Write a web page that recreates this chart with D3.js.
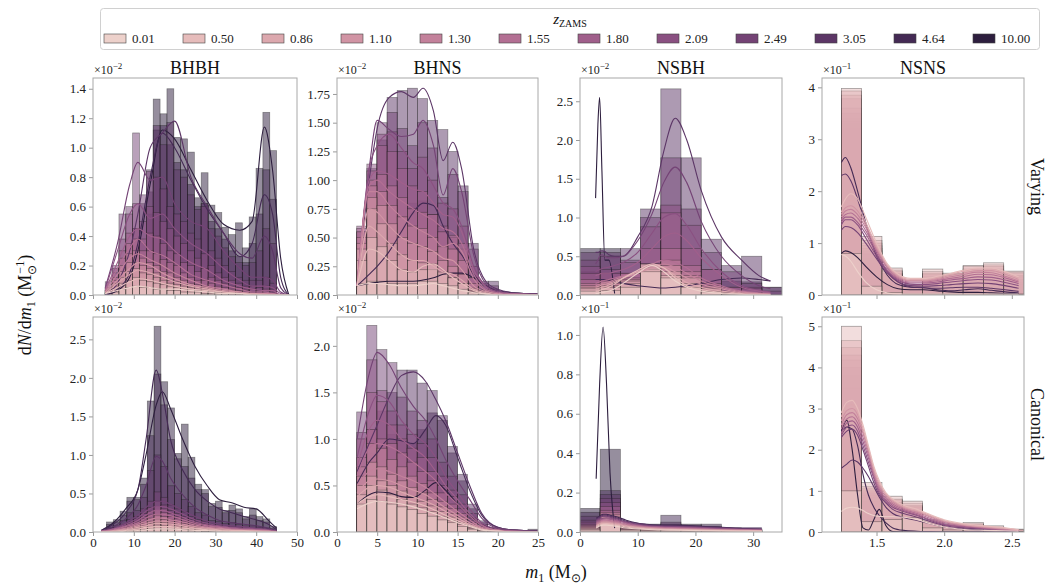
<!DOCTYPE html>
<html>
<head>
<meta charset="utf-8">
<script src="https://cdn.jsdelivr.net/npm/d3@7"></script>
<style>
  body { margin: 0; background: #fff; }
  svg text { font-family: "Liberation Serif", "Times New Roman", serif !important; }
</style>
</head>
<body>
<svg id="chart" width="1046" height="585"></svg>
<script>
// ---- data -------------------------------------------------------------
const zamsLabels = ["0.01", "0.50", "0.86", "1.10", "1.30", "1.55", "1.80", "2.09", "2.49", "3.05", "4.64", "10.00"];
const typeNames = ["BHBH", "BHNS", "NSBH", "NSNS"];
const rowNames = ["Varying", "Canonical"];

const xDomains = [[0, 50], [0, 25], [0, 35], [1.097, 2.59]];
const xTicks = [[0, 10, 20, 30, 40, 50], [0, 5, 10, 15, 20, 25], [0, 10, 20, 30], [1.5, 2.0, 2.5]];

// BHBH, varying (x10^-2); one row per z_ZAMS, lightest first
const bhbhVaryingEdges = [3.0, 4.68, 6.36, 8.04, 9.72, 11.4, 13.08, 14.76, 16.44, 18.12, 19.8, 21.48, 23.16, 24.84, 26.52, 28.2, 29.88, 31.56, 33.24, 34.92, 36.6, 38.28, 39.96, 41.64, 43.32, 45.0];
const bhbhVaryingHist = [
  [0.01, 0.02, 0.04, 0.05, 0.06, 0.05, 0.05, 0.04, 0.04, 0.03, 0.03, 0.02, 0.02, 0.02, 0.01, 0.01, 0.01, 0.01, 0, 0, 0, 0, 0, 0, 0],
  [0.01, 0.04, 0.08, 0.1, 0.12, 0.1, 0.09, 0.08, 0.07, 0.06, 0.05, 0.04, 0.04, 0.03, 0.03, 0.02, 0.02, 0.01, 0.01, 0.01, 0, 0, 0, 0, 0],
  [0.02, 0.06, 0.12, 0.16, 0.18, 0.15, 0.14, 0.12, 0.1, 0.08, 0.07, 0.06, 0.05, 0.04, 0.04, 0.03, 0.02, 0.02, 0.01, 0.01, 0.01, 0.01, 0, 0, 0],
  [0.02, 0.08, 0.16, 0.22, 0.22, 0.2, 0.18, 0.15, 0.12, 0.1, 0.09, 0.07, 0.06, 0.05, 0.05, 0.04, 0.03, 0.02, 0.02, 0.02, 0.01, 0.01, 0.01, 0.01, 0],
  [0.03, 0.1, 0.2, 0.28, 0.3, 0.25, 0.22, 0.2, 0.16, 0.15, 0.12, 0.1, 0.08, 0.07, 0.06, 0.05, 0.04, 0.03, 0.03, 0.02, 0.02, 0.01, 0.01, 0.01, 0.01],
  [0.03, 0.12, 0.25, 0.35, 0.38, 0.3, 0.3, 0.28, 0.24, 0.22, 0.2, 0.15, 0.12, 0.1, 0.1, 0.08, 0.06, 0.05, 0.04, 0.03, 0.03, 0.02, 0.02, 0.02, 0.01],
  [0.04, 0.15, 0.3, 0.42, 0.45, 0.38, 0.42, 0.4, 0.35, 0.3, 0.28, 0.22, 0.2, 0.16, 0.18, 0.12, 0.1, 0.08, 0.06, 0.05, 0.04, 0.04, 0.03, 0.04, 0.02],
  [0.05, 0.18, 0.38, 0.55, 0.62, 0.5, 0.6, 0.56, 0.5, 0.45, 0.4, 0.35, 0.3, 0.25, 0.28, 0.2, 0.15, 0.12, 0.1, 0.08, 0.06, 0.06, 0.05, 0.06, 0.04],
  [0.09, 0.2, 0.55, 0.6, 1.1, 0.68, 0.84, 0.8, 0.72, 0.6, 0.55, 0.5, 0.42, 0.38, 0.6, 0.3, 0.25, 0.2, 0.16, 0.12, 0.1, 0.1, 0.1, 0.12, 0.08],
  [0, 0.03, 0.1, 0.22, 0.45, 0.62, 0.85, 1.15, 1.02, 1.17, 0.85, 0.8, 0.68, 0.58, 0.62, 0.45, 0.4, 0.32, 0.26, 0.22, 0.2, 0.22, 0.3, 0.45, 0.35],
  [0, 0.01, 0.04, 0.1, 0.2, 0.35, 0.7, 1.12, 1.15, 1.02, 0.9, 0.85, 0.75, 0.6, 0.62, 0.5, 0.45, 0.38, 0.3, 0.26, 0.22, 0.35, 0.55, 0.85, 0.65],
  [0, 0.01, 0.03, 0.08, 0.16, 0.3, 0.55, 1.33, 1.23, 1.40, 1.07, 1.06, 0.97, 0.66, 0.83, 0.61, 0.56, 0.46, 0.41, 0.49, 0.32, 0.53, 0.86, 1.24, 0.98]
];
const bhbhVaryingKdeX = [3, 6, 9, 11, 14, 17, 20, 24, 28, 32, 36, 39, 42, 44, 46, 48];
const bhbhVaryingKde = [
  [0.01, 0.03, 0.05, 0.06, 0.05, 0.04, 0.04, 0.03, 0.02, 0.01, 0.01, 0, 0, 0, 0, 0],
  [0.01, 0.05, 0.09, 0.11, 0.1, 0.08, 0.06, 0.04, 0.03, 0.02, 0.01, 0, 0, 0, 0, 0],
  [0.01, 0.08, 0.14, 0.17, 0.15, 0.12, 0.09, 0.06, 0.04, 0.02, 0.01, 0.01, 0, 0, 0, 0],
  [0.02, 0.1, 0.18, 0.22, 0.2, 0.15, 0.11, 0.07, 0.05, 0.03, 0.02, 0.01, 0.01, 0, 0, 0],
  [0.02, 0.14, 0.25, 0.28, 0.24, 0.2, 0.15, 0.1, 0.06, 0.04, 0.02, 0.01, 0.01, 0.01, 0, 0],
  [0.03, 0.18, 0.32, 0.38, 0.3, 0.27, 0.22, 0.14, 0.1, 0.07, 0.04, 0.02, 0.02, 0.01, 0, 0],
  [0.03, 0.22, 0.4, 0.45, 0.4, 0.38, 0.3, 0.22, 0.17, 0.1, 0.06, 0.04, 0.03, 0.03, 0, 0],
  [0.04, 0.3, 0.55, 0.62, 0.52, 0.55, 0.45, 0.35, 0.28, 0.18, 0.1, 0.06, 0.06, 0.05, 0.01, 0],
  [0.05, 0.35, 0.75, 0.9, 0.78, 0.8, 0.62, 0.5, 0.45, 0.3, 0.18, 0.12, 0.12, 0.1, 0.02, 0],
  [0, 0.08, 0.3, 0.55, 1.0, 1.1, 1.18, 0.8, 0.6, 0.42, 0.28, 0.25, 0.4, 0.3, 0.05, 0],
  [0, 0.04, 0.15, 0.35, 0.8, 1.1, 1.0, 0.78, 0.58, 0.42, 0.26, 0.35, 0.68, 0.55, 0.12, 0],
  [0, 0.03, 0.12, 0.3, 0.75, 1.12, 1.06, 0.85, 0.64, 0.48, 0.44, 0.5, 1.14, 0.85, 0.25, 0]
];

// BHBH, canonical (x10^-2)
const bhbhCanonicalEdges = [3.3, 4.97, 6.64, 8.3, 9.97, 11.64, 13.31, 14.98, 16.64, 18.31, 19.98, 21.65, 23.32, 24.98, 26.65, 28.32, 29.99, 31.66, 33.32, 34.99, 36.66, 38.33, 40.0, 41.66, 43.33, 45.0];
const bhbhCanonicalHist = [
  [0, 0.01, 0.01, 0.02, 0.02, 0.03, 0.04, 0.05, 0.04, 0.04, 0.03, 0.03, 0.02, 0.02, 0.01, 0.01, 0.01, 0.01, 0.01, 0, 0, 0, 0, 0, 0],
  [0.01, 0.01, 0.02, 0.03, 0.04, 0.06, 0.07, 0.09, 0.08, 0.07, 0.06, 0.05, 0.04, 0.03, 0.03, 0.02, 0.02, 0.01, 0.01, 0.01, 0.01, 0.01, 0, 0, 0],
  [0.01, 0.02, 0.03, 0.05, 0.06, 0.08, 0.11, 0.13, 0.12, 0.1, 0.08, 0.07, 0.05, 0.04, 0.04, 0.03, 0.02, 0.02, 0.02, 0.01, 0.01, 0.01, 0.01, 0, 0],
  [0.02, 0.02, 0.04, 0.06, 0.08, 0.11, 0.14, 0.17, 0.16, 0.13, 0.11, 0.09, 0.07, 0.06, 0.05, 0.04, 0.03, 0.03, 0.02, 0.02, 0.02, 0.01, 0.01, 0.01, 0],
  [0.02, 0.03, 0.05, 0.07, 0.1, 0.14, 0.18, 0.22, 0.2, 0.16, 0.14, 0.11, 0.09, 0.07, 0.06, 0.05, 0.04, 0.03, 0.03, 0.03, 0.02, 0.02, 0.01, 0.01, 0],
  [0.03, 0.04, 0.06, 0.09, 0.12, 0.17, 0.22, 0.28, 0.25, 0.2, 0.17, 0.14, 0.11, 0.09, 0.08, 0.06, 0.05, 0.04, 0.04, 0.03, 0.03, 0.02, 0.02, 0.01, 0.01],
  [0.03, 0.04, 0.07, 0.11, 0.14, 0.2, 0.27, 0.33, 0.3, 0.24, 0.2, 0.17, 0.13, 0.11, 0.09, 0.07, 0.06, 0.05, 0.04, 0.04, 0.03, 0.03, 0.02, 0.02, 0.01],
  [0.04, 0.05, 0.08, 0.13, 0.17, 0.24, 0.32, 0.4, 0.35, 0.28, 0.24, 0.2, 0.16, 0.13, 0.11, 0.08, 0.07, 0.06, 0.05, 0.05, 0.04, 0.04, 0.03, 0.02, 0.01],
  [0.05, 0.06, 0.1, 0.16, 0.2, 0.3, 0.4, 0.52, 0.45, 0.35, 0.3, 0.26, 0.2, 0.16, 0.14, 0.1, 0.09, 0.07, 0.07, 0.06, 0.05, 0.05, 0.04, 0.03, 0.01],
  [0.06, 0.08, 0.15, 0.25, 0.28, 0.45, 0.8, 1.0, 0.85, 0.6, 0.5, 0.42, 0.33, 0.25, 0.22, 0.15, 0.14, 0.11, 0.12, 0.1, 0.08, 0.08, 0.06, 0.05, 0.02],
  [0.1, 0.13, 0.22, 0.4, 0.42, 0.62, 1.25, 2.05, 1.65, 1.2, 0.95, 0.85, 0.7, 0.55, 0.5, 0.33, 0.32, 0.25, 0.28, 0.25, 0.17, 0.22, 0.15, 0.13, 0.05],
  [0.13, 0.16, 0.27, 0.45, 0.45, 0.7, 1.7, 2.67, 1.95, 1.61, 1.02, 1.4, 0.97, 0.62, 0.55, 0.37, 0.4, 0.28, 0.35, 0.3, 0.2, 0.3, 0.2, 0.17, 0.07]
];
const bhbhCanonicalKdeX = [2, 5, 8, 11, 13, 15.5, 17, 19, 22, 25, 28, 31, 34, 37, 40, 43, 45];
const bhbhCanonicalKde = [
  [0, 0, 0.01, 0.02, 0.03, 0.04, 0.04, 0.04, 0.03, 0.02, 0.02, 0.01, 0.01, 0.01, 0, 0, 0],
  [0, 0.01, 0.02, 0.04, 0.06, 0.07, 0.07, 0.07, 0.05, 0.04, 0.03, 0.02, 0.01, 0.01, 0.01, 0, 0],
  [0, 0.01, 0.03, 0.06, 0.08, 0.11, 0.11, 0.1, 0.08, 0.05, 0.04, 0.03, 0.02, 0.02, 0.01, 0.01, 0],
  [0, 0.02, 0.04, 0.08, 0.11, 0.14, 0.14, 0.13, 0.1, 0.07, 0.05, 0.04, 0.03, 0.02, 0.02, 0.01, 0],
  [0.01, 0.02, 0.05, 0.1, 0.14, 0.18, 0.18, 0.16, 0.13, 0.09, 0.06, 0.05, 0.03, 0.03, 0.02, 0.01, 0],
  [0.01, 0.03, 0.07, 0.12, 0.18, 0.23, 0.23, 0.21, 0.16, 0.11, 0.08, 0.06, 0.04, 0.03, 0.03, 0.02, 0],
  [0.01, 0.04, 0.08, 0.15, 0.22, 0.28, 0.28, 0.25, 0.19, 0.13, 0.09, 0.07, 0.05, 0.04, 0.03, 0.02, 0.01],
  [0.01, 0.04, 0.1, 0.18, 0.27, 0.33, 0.33, 0.3, 0.23, 0.16, 0.11, 0.08, 0.06, 0.05, 0.04, 0.03, 0.01],
  [0.01, 0.05, 0.12, 0.22, 0.32, 0.4, 0.4, 0.36, 0.28, 0.2, 0.14, 0.1, 0.08, 0.07, 0.05, 0.03, 0.01],
  [0.01, 0.07, 0.17, 0.35, 0.6, 0.98, 0.92, 0.7, 0.48, 0.32, 0.22, 0.15, 0.12, 0.1, 0.08, 0.05, 0.02],
  [0.02, 0.1, 0.25, 0.55, 1.2, 2.1, 1.8, 1.2, 0.8, 0.55, 0.4, 0.3, 0.25, 0.2, 0.16, 0.1, 0.03],
  [0.02, 0.12, 0.3, 0.55, 1.0, 1.65, 1.82, 1.6, 1.2, 0.85, 0.6, 0.42, 0.38, 0.32, 0.3, 0.15, 0.05]
];

// BHNS, varying (x10^-2)
const bhnsVaryingEdges = [2.45, 3.71, 4.97, 6.23, 7.49, 8.75, 10.01, 11.27, 12.53, 13.79, 15.05, 16.31, 17.57, 18.83, 20.09];
const bhnsVaryingHist = [
  [0.1, 0.12, 0.12, 0.1, 0.1, 0.1, 0.12, 0.12, 0.1, 0.08, 0.05, 0.02, 0.01, 0],
  [0.3, 0.5, 0.42, 0.3, 0.22, 0.2, 0.22, 0.27, 0.2, 0.15, 0.1, 0.03, 0.01, 0],
  [0.4, 0.75, 0.62, 0.45, 0.35, 0.3, 0.28, 0.22, 0.18, 0.15, 0.1, 0.04, 0.01, 0.01],
  [0.45, 0.85, 0.78, 0.62, 0.5, 0.45, 0.42, 0.38, 0.3, 0.25, 0.18, 0.06, 0.02, 0.01],
  [0.5, 0.95, 0.9, 0.78, 0.68, 0.6, 0.58, 0.5, 0.42, 0.4, 0.3, 0.1, 0.03, 0.02],
  [0.55, 1.0, 1.05, 0.95, 0.85, 0.75, 0.72, 0.7, 0.55, 0.52, 0.45, 0.15, 0.04, 0.02],
  [0.58, 1.08, 1.3, 1.25, 1.1, 0.95, 0.9, 0.7, 0.6, 0.5, 0.4, 0.15, 0.05, 0.03],
  [0.6, 1.14, 1.4, 1.42, 1.25, 1.1, 1.2, 1.0, 0.8, 0.75, 0.6, 0.25, 0.08, 0.05],
  [0.55, 1.1, 1.5, 1.59, 1.45, 1.3, 1.5, 1.28, 0.85, 1.05, 0.9, 0.4, 0.1, 0.08],
  [0.45, 0.95, 1.35, 1.72, 1.78, 1.80, 1.71, 1.52, 1.44, 1.25, 0.95, 0.45, 0.12, 0.12],
  [0.1, 0.2, 0.35, 0.5, 0.65, 0.8, 0.82, 0.7, 0.55, 0.4, 0.25, 0.1, 0.03, 0.02],
  [0.08, 0.1, 0.12, 0.12, 0.13, 0.14, 0.16, 0.18, 0.2, 0.2, 0.17, 0.08, 0.03, 0.02]
];
const bhnsVaryingKdeX = [2.5, 4, 5, 6.5, 8, 9.5, 10.7, 12, 13.2, 14.4, 15.5, 17, 18.5, 20, 22, 25];
const bhnsVaryingKde = [
  [0.08, 0.1, 0.1, 0.09, 0.08, 0.08, 0.09, 0.1, 0.08, 0.06, 0.04, 0.02, 0.01, 0, 0, 0],
  [0.08, 0.4, 0.38, 0.3, 0.22, 0.2, 0.25, 0.27, 0.22, 0.15, 0.1, 0.04, 0.01, 0, 0, 0],
  [0.08, 0.6, 0.55, 0.45, 0.35, 0.3, 0.3, 0.25, 0.2, 0.18, 0.13, 0.05, 0.02, 0, 0, 0],
  [0.08, 0.75, 0.72, 0.6, 0.5, 0.45, 0.42, 0.38, 0.32, 0.3, 0.22, 0.08, 0.03, 0.01, 0, 0],
  [0.08, 0.9, 0.9, 0.78, 0.68, 0.6, 0.55, 0.5, 0.42, 0.45, 0.38, 0.14, 0.04, 0.01, 0, 0],
  [0.08, 0.95, 1.0, 0.9, 0.82, 0.75, 0.7, 0.65, 0.58, 0.55, 0.45, 0.18, 0.05, 0.02, 0.01, 0],
  [0.08, 1.0, 1.08, 1.05, 0.98, 0.92, 0.9, 0.8, 0.7, 0.68, 0.55, 0.22, 0.07, 0.02, 0.01, 0],
  [0.08, 1.1, 1.3, 1.4, 1.28, 1.15, 1.1, 0.95, 0.8, 0.75, 0.6, 0.25, 0.08, 0.03, 0.01, 0],
  [0.08, 1.1, 1.52, 1.44, 1.38, 1.4, 1.52, 1.3, 0.87, 1.1, 0.9, 0.35, 0.1, 0.04, 0.01, 0.01],
  [0.08, 1.0, 1.45, 1.72, 1.77, 1.72, 1.8, 1.6, 1.17, 1.33, 1.1, 0.4, 0.12, 0.05, 0.02, 0.01],
  [0.08, 0.18, 0.25, 0.38, 0.55, 0.72, 0.8, 0.78, 0.6, 0.45, 0.35, 0.18, 0.08, 0.03, 0.01, 0.01],
  [0.08, 0.1, 0.11, 0.12, 0.12, 0.12, 0.13, 0.15, 0.18, 0.19, 0.19, 0.15, 0.08, 0.04, 0.02, 0.01]
];

// BHNS, canonical (x10^-2)
const bhnsCanonicalEdges = [2.45, 3.70, 4.96, 6.21, 7.46, 8.71, 9.97, 11.22, 12.47, 13.73, 14.98, 16.23, 17.48, 18.74, 19.99, 21.24, 22.50, 23.75, 25.0];
const bhnsCanonicalHist = [
  [0.3, 0.35, 0.33, 0.3, 0.27, 0.24, 0.2, 0.17, 0.13, 0.1, 0.06, 0.03, 0.01, 0, 0, 0, 0, 0],
  [0.4, 0.5, 0.45, 0.4, 0.35, 0.3, 0.26, 0.22, 0.17, 0.12, 0.08, 0.04, 0.02, 0, 0, 0, 0, 0],
  [0.5, 0.6, 0.55, 0.5, 0.44, 0.38, 0.33, 0.28, 0.22, 0.16, 0.1, 0.05, 0.02, 0.01, 0, 0, 0, 0],
  [0.6, 0.75, 0.7, 0.62, 0.55, 0.48, 0.42, 0.35, 0.27, 0.2, 0.13, 0.06, 0.02, 0.01, 0, 0, 0, 0],
  [0.7, 0.95, 0.9, 0.78, 0.7, 0.6, 0.52, 0.42, 0.33, 0.25, 0.16, 0.08, 0.03, 0.01, 0, 0, 0, 0],
  [0.8, 1.1, 1.0, 0.95, 0.85, 0.75, 0.65, 0.55, 0.42, 0.3, 0.2, 0.1, 0.04, 0.02, 0.01, 0, 0, 0],
  [1.0, 1.5, 1.4, 1.15, 1.0, 0.9, 0.8, 0.65, 0.5, 0.38, 0.25, 0.12, 0.05, 0.02, 0.01, 0, 0, 0],
  [1.07, 1.85, 1.52, 1.3, 1.15, 1.05, 0.95, 0.8, 0.6, 0.45, 0.3, 0.15, 0.06, 0.03, 0.01, 0.01, 0, 0],
  [1.29, 2.22, 1.96, 1.82, 1.45, 1.3, 1.2, 1.0, 0.75, 0.6, 0.4, 0.2, 0.08, 0.04, 0.02, 0.01, 0, 0.01],
  [0.65, 1.1, 1.3, 1.5, 1.74, 1.74, 1.6, 1.52, 1.25, 0.92, 0.62, 0.3, 0.12, 0.05, 0.03, 0.02, 0, 0.03],
  [0.6, 0.85, 1.0, 1.05, 0.98, 0.95, 1.1, 1.28, 1.2, 0.85, 0.55, 0.25, 0.1, 0.04, 0.02, 0.01, 0, 0.02],
  [0.3, 0.42, 0.42, 0.4, 0.38, 0.38, 0.45, 0.52, 0.45, 0.3, 0.18, 0.1, 0.05, 0.02, 0.01, 0.01, 0, 0]
];
const bhnsCanonicalKdeX = [2.5, 4, 5, 6.5, 8, 9.5, 11, 12.3, 13.5, 15, 16.5, 18, 20, 22, 25];
const bhnsCanonicalKde = [
  [0.25, 0.31, 0.33, 0.32, 0.3, 0.27, 0.23, 0.19, 0.15, 0.1, 0.06, 0.02, 0.01, 0, 0],
  [0.3, 0.38, 0.4, 0.38, 0.35, 0.32, 0.28, 0.23, 0.18, 0.12, 0.07, 0.03, 0.01, 0, 0],
  [0.38, 0.48, 0.5, 0.48, 0.43, 0.38, 0.33, 0.28, 0.22, 0.15, 0.08, 0.03, 0.01, 0, 0],
  [0.42, 0.55, 0.57, 0.55, 0.5, 0.45, 0.4, 0.33, 0.26, 0.18, 0.1, 0.04, 0.01, 0, 0],
  [0.5, 0.65, 0.68, 0.65, 0.6, 0.55, 0.48, 0.4, 0.32, 0.22, 0.13, 0.05, 0.02, 0, 0],
  [0.6, 0.9, 0.95, 0.92, 0.85, 0.75, 0.65, 0.55, 0.42, 0.3, 0.17, 0.07, 0.02, 0.01, 0],
  [0.7, 1.1, 1.2, 1.15, 1.0, 0.9, 0.8, 0.65, 0.5, 0.35, 0.2, 0.08, 0.02, 0.01, 0],
  [0.8, 1.3, 1.47, 1.4, 1.2, 1.05, 0.95, 0.8, 0.6, 0.42, 0.25, 0.1, 0.03, 0.01, 0],
  [1.0, 1.7, 1.93, 1.8, 1.55, 1.35, 1.2, 1.0, 0.78, 0.55, 0.35, 0.15, 0.04, 0.02, 0.01],
  [0.65, 0.95, 1.15, 1.45, 1.68, 1.72, 1.62, 1.42, 1.2, 0.85, 0.5, 0.2, 0.05, 0.02, 0.01],
  [0.52, 0.75, 0.85, 1.0, 0.98, 0.95, 1.1, 1.25, 1.15, 0.8, 0.45, 0.18, 0.05, 0.02, 0.01],
  [0.3, 0.4, 0.43, 0.42, 0.38, 0.37, 0.45, 0.53, 0.45, 0.3, 0.17, 0.08, 0.03, 0.02, 0.01]
];

// NSBH, varying (x10^-2)
const nsbhVaryingEdges = [0, 3.5, 7, 10.5, 14, 17.5, 21, 24.5, 28, 31.5, 35];
const nsbhVaryingHist = [
  [0.05, 0.06, 0.1, 0.3, 0.22, 0.1, 0.04, 0.01, 0, 0],
  [0.08, 0.1, 0.15, 0.4, 0.25, 0.15, 0.05, 0.02, 0, 0],
  [0.1, 0.12, 0.18, 0.33, 0.3, 0.22, 0.08, 0.02, 0.01, 0],
  [0.12, 0.15, 0.2, 0.35, 0.38, 0.25, 0.1, 0.03, 0.01, 0],
  [0.15, 0.18, 0.22, 0.4, 0.45, 0.3, 0.12, 0.03, 0.02, 0],
  [0.2, 0.2, 0.28, 0.4, 0.6, 0.38, 0.15, 0.05, 0.03, 0],
  [0.28, 0.28, 0.28, 0.6, 1.06, 0.6, 0.33, 0.1, 0.08, 0],
  [0.37, 0.33, 0.42, 0.88, 1.16, 0.9, 0.33, 0.1, 0.1, 0],
  [0.45, 0.5, 0.45, 1.0, 1.77, 1.11, 0.55, 0.3, 0.15, 0.05],
  [0.55, 0.55, 0.6, 1.11, 2.66, 1.77, 0.72, 0.38, 0.5, 0.1],
  [0.3, 0.28, 0.2, 0.12, 0.1, 0.12, 0.15, 0.18, 0.17, 0.1],
  [0.6, 0.6, 0, 0, 0, 0, 0, 0, 0, 0]
];
const nsbhVaryingKdeX = [2.7, 3.1, 3.4, 3.8, 4.3, 5, 6, 7.5, 10, 12.5, 14.5, 16.5, 18.5, 21, 24.5, 28, 31, 33];
const nsbhVaryingKde = [
  [0.02, 0.02, 0.03, 0.03, 0.04, 0.05, 0.08, 0.15, 0.28, 0.38, 0.3, 0.18, 0.1, 0.05, 0.02, 0.01, 0, 0],
  [0.05, 0.05, 0.06, 0.07, 0.08, 0.1, 0.14, 0.22, 0.32, 0.4, 0.35, 0.22, 0.12, 0.07, 0.03, 0.01, 0, 0],
  [0.08, 0.08, 0.09, 0.1, 0.11, 0.13, 0.16, 0.22, 0.3, 0.38, 0.35, 0.25, 0.16, 0.1, 0.05, 0.02, 0.01, 0],
  [0.1, 0.11, 0.12, 0.13, 0.14, 0.15, 0.18, 0.22, 0.28, 0.35, 0.36, 0.3, 0.22, 0.14, 0.08, 0.03, 0.02, 0.01],
  [0.12, 0.13, 0.14, 0.15, 0.16, 0.17, 0.2, 0.24, 0.3, 0.38, 0.4, 0.36, 0.28, 0.18, 0.1, 0.04, 0.02, 0.01],
  [0.15, 0.16, 0.17, 0.18, 0.19, 0.2, 0.22, 0.25, 0.3, 0.4, 0.45, 0.42, 0.35, 0.22, 0.12, 0.05, 0.03, 0.02],
  [0.25, 0.26, 0.27, 0.28, 0.28, 0.28, 0.3, 0.33, 0.42, 0.6, 0.75, 0.8, 0.7, 0.48, 0.25, 0.1, 0.05, 0.03],
  [0.3, 0.32, 0.33, 0.34, 0.35, 0.36, 0.38, 0.42, 0.55, 0.8, 1.0, 1.05, 0.9, 0.6, 0.3, 0.12, 0.06, 0.04],
  [0.4, 0.45, 0.5, 0.52, 0.5, 0.48, 0.48, 0.5, 0.7, 1.05, 1.45, 1.65, 1.45, 0.95, 0.5, 0.25, 0.12, 0.08],
  [0.55, 0.55, 0.56, 0.57, 0.56, 0.52, 0.5, 0.5, 0.75, 1.15, 1.85, 2.28, 2.0, 1.35, 0.75, 0.45, 0.25, 0.18],
  [0.2, 0.2, 0.2, 0.2, 0.2, 0.19, 0.18, 0.15, 0.12, 0.1, 0.09, 0.1, 0.12, 0.15, 0.2, 0.22, 0.2, 0.18],
  [1.25, 2.2, 2.55, 1.6, 0.45, 0.45, 0.02, null, null, null, null, null, null, null, null, null, null, null]
];

// NSBH, canonical (x10^-1)
const nsbhCanonicalEdges = [0, 3.5, 7, 10.5, 14, 17.5, 21, 24.5, 28, 31.5];
const nsbhCanonicalHist = [
  [0.01, 0.05, 0.01, 0.005, 0.005, 0.005, 0, 0, 0],
  [0.015, 0.07, 0.01, 0.01, 0.01, 0.005, 0.005, 0, 0],
  [0.02, 0.08, 0.015, 0.01, 0.01, 0.01, 0.005, 0.005, 0],
  [0.025, 0.09, 0.02, 0.015, 0.015, 0.01, 0.01, 0.005, 0.005],
  [0.03, 0.1, 0.02, 0.02, 0.02, 0.015, 0.01, 0.01, 0.005],
  [0.035, 0.11, 0.025, 0.02, 0.025, 0.02, 0.015, 0.01, 0.005],
  [0.04, 0.13, 0.03, 0.025, 0.03, 0.02, 0.02, 0.01, 0.01],
  [0.05, 0.15, 0.03, 0.03, 0.035, 0.025, 0.02, 0.015, 0.01],
  [0.06, 0.17, 0.035, 0.03, 0.04, 0.03, 0.025, 0.015, 0.01],
  [0.08, 0.19, 0.04, 0.035, 0.05, 0.035, 0.03, 0.02, 0.015],
  [0.1, 0.21, 0.04, 0.04, 0.085, 0.04, 0.04, 0.02, 0.015],
  [0.12, 0.42, 0, 0, 0, 0, 0, 0, 0]
];
const nsbhCanonicalKdeX = [2.8, 3.4, 4.0, 4.6, 5.2, 6, 8, 11, 14, 17, 20, 24, 28, 31.5];
const nsbhCanonicalKde = [
  [0.02, 0.03, 0.035, 0.035, 0.033, 0.03, 0.02, 0.014, 0.01, 0.009, 0.007, 0.005, 0.004, 0.003],
  [0.025, 0.035, 0.04, 0.04, 0.038, 0.035, 0.025, 0.017, 0.013, 0.011, 0.009, 0.007, 0.005, 0.004],
  [0.03, 0.04, 0.045, 0.046, 0.044, 0.04, 0.03, 0.02, 0.015, 0.013, 0.011, 0.008, 0.006, 0.005],
  [0.035, 0.045, 0.05, 0.05, 0.048, 0.045, 0.033, 0.022, 0.018, 0.015, 0.013, 0.01, 0.008, 0.006],
  [0.04, 0.05, 0.055, 0.056, 0.054, 0.05, 0.037, 0.025, 0.02, 0.018, 0.015, 0.012, 0.009, 0.007],
  [0.045, 0.055, 0.06, 0.06, 0.058, 0.055, 0.04, 0.028, 0.022, 0.02, 0.017, 0.013, 0.01, 0.008],
  [0.05, 0.06, 0.065, 0.066, 0.064, 0.06, 0.045, 0.03, 0.025, 0.022, 0.02, 0.015, 0.012, 0.01],
  [0.055, 0.065, 0.07, 0.072, 0.07, 0.065, 0.048, 0.032, 0.027, 0.025, 0.022, 0.017, 0.013, 0.01],
  [0.06, 0.07, 0.08, 0.08, 0.075, 0.07, 0.05, 0.035, 0.03, 0.028, 0.025, 0.02, 0.015, 0.012],
  [0.065, 0.075, 0.085, 0.085, 0.08, 0.075, 0.055, 0.04, 0.03, 0.03, 0.028, 0.022, 0.018, 0.015],
  [0.07, 0.08, 0.09, 0.09, 0.085, 0.08, 0.06, 0.04, 0.035, 0.035, 0.03, 0.025, 0.02, 0.02],
  [0.27, 0.75, 1.04, 0.75, 0.3, 0.02, null, null, null, null, null, null, null, null]
];

// NSNS, varying (x10^-1)
const nsnsEdges = [1.24, 1.39, 1.54, 1.69, 1.84, 1.99, 2.14, 2.29, 2.44, 2.59];
const nsnsVaryingHist = [
  [0.8, 0.17, 0.05, 0.02, 0.02, 0.02, 0.02, 0.02, 0.02],
  [3.98, 1.13, 0.52, 0.2, 0.5, 0.42, 0.57, 0.62, 0.46],
  [3.93, 1.05, 0.48, 0.18, 0.45, 0.4, 0.55, 0.58, 0.44],
  [3.85, 1.0, 0.45, 0.18, 0.42, 0.38, 0.5, 0.55, 0.42],
  [3.78, 0.95, 0.42, 0.17, 0.4, 0.35, 0.45, 0.5, 0.38],
  [3.6, 0.9, 0.4, 0.16, 0.35, 0.32, 0.4, 0.45, 0.35],
  [3.5, 0.85, 0.38, 0.15, 0.32, 0.3, 0.35, 0.4, 0.3],
  [3.4, 0.8, 0.35, 0.15, 0.3, 0.26, 0.3, 0.35, 0.25],
  [3.35, 0.78, 0.3, 0.14, 0.25, 0.22, 0.25, 0.28, 0.2],
  [3.2, 0.7, 0.28, 0.12, 0.2, 0.18, 0.2, 0.2, 0.15],
  [3.3, 0.6, 0.25, 0.13, 0.15, 0.12, 0.15, 0.12, 0.08],
  [1.0, 0.3, 0.2, 0.15, 0.12, 0.1, 0.1, 0.08, 0.05]
];
const nsnsVaryingKdeX = [1.24, 1.27, 1.31, 1.36, 1.42, 1.5, 1.58, 1.66, 1.75, 1.85, 1.95, 2.05, 2.15, 2.25, 2.35, 2.45, 2.55];
const nsnsVaryingKde = [
  [0.78, 0.75, 0.65, 0.45, 0.25, 0.1, 0.04, 0.02, 0.02, 0.02, 0.02, 0.02, 0.02, 0.02, 0.02, 0.02, 0.02],
  [1.7, 1.85, 1.95, 1.85, 1.5, 1.0, 0.6, 0.4, 0.32, 0.32, 0.36, 0.42, 0.48, 0.52, 0.52, 0.45, 0.35],
  [1.6, 1.75, 1.82, 1.72, 1.4, 0.95, 0.58, 0.38, 0.3, 0.3, 0.34, 0.4, 0.46, 0.5, 0.5, 0.43, 0.33],
  [1.55, 1.68, 1.72, 1.62, 1.35, 0.92, 0.56, 0.36, 0.28, 0.28, 0.32, 0.38, 0.43, 0.47, 0.47, 0.4, 0.3],
  [1.5, 1.62, 1.65, 1.55, 1.3, 0.88, 0.54, 0.34, 0.27, 0.27, 0.3, 0.35, 0.4, 0.44, 0.43, 0.36, 0.27],
  [1.45, 1.55, 1.58, 1.48, 1.24, 0.85, 0.52, 0.32, 0.25, 0.25, 0.28, 0.32, 0.36, 0.4, 0.39, 0.33, 0.25],
  [1.4, 1.5, 1.5, 1.4, 1.18, 0.8, 0.48, 0.3, 0.23, 0.23, 0.25, 0.29, 0.32, 0.35, 0.34, 0.29, 0.22],
  [1.35, 1.45, 1.45, 1.35, 1.1, 0.75, 0.45, 0.28, 0.21, 0.2, 0.22, 0.25, 0.28, 0.3, 0.29, 0.24, 0.18],
  [1.25, 1.32, 1.3, 1.2, 1.0, 0.7, 0.42, 0.25, 0.18, 0.17, 0.18, 0.2, 0.22, 0.23, 0.22, 0.18, 0.13],
  [2.3, 2.33, 2.2, 1.85, 1.35, 0.8, 0.45, 0.25, 0.16, 0.14, 0.13, 0.14, 0.15, 0.15, 0.13, 0.1, 0.07],
  [2.55, 2.65, 2.45, 2.0, 1.4, 0.75, 0.38, 0.2, 0.15, 0.14, 0.1, 0.08, 0.1, 0.12, 0.09, 0.06, 0.04],
  [0.8, 0.85, 0.82, 0.72, 0.55, 0.35, 0.2, 0.12, 0.1, 0.1, 0.08, 0.06, 0.05, 0.05, 0.04, 0.03, 0.03]
];

// NSNS, canonical (x10^-1)
const nsnsCanonicalHist = [
  [1.0, 0.25, 0.3, 0.35, 0.1, 0.05, 0.05, 0.03, 0.01],
  [5.0, 1.2, 0.87, 0.75, 0.3, 0.2, 0.23, 0.15, 0.07],
  [4.65, 1.1, 0.8, 0.7, 0.28, 0.18, 0.2, 0.12, 0.06],
  [4.48, 1.05, 0.78, 0.65, 0.26, 0.16, 0.18, 0.1, 0.05],
  [4.3, 1.0, 0.72, 0.62, 0.24, 0.15, 0.15, 0.08, 0.04],
  [4.18, 0.95, 0.7, 0.6, 0.22, 0.13, 0.13, 0.07, 0.03],
  [4.0, 0.9, 0.65, 0.55, 0.2, 0.12, 0.1, 0.05, 0.02],
  [3.8, 0.85, 0.6, 0.5, 0.18, 0.1, 0.08, 0.04, 0.02],
  [3.5, 0.75, 0.55, 0.45, 0.15, 0.08, 0.06, 0.03, 0.01],
  [2.0, 0.5, 0.4, 0.3, 0.1, 0.05, 0.03, 0.02, 0.01],
  [3.0, 0.5, 0.1, 0.05, 0.02, 0.01, 0, 0, 0],
  [2.5, 0.25, 0.1, 0, 0, 0, 0, 0, 0]
];
const nsnsCanonicalKdeX = [1.24, 1.28, 1.32, 1.36, 1.4, 1.44, 1.48, 1.52, 1.57, 1.62, 1.7, 1.8, 1.9, 2.0, 2.15, 2.3, 2.45, 2.55];
const nsnsCanonicalKde = [
  [0.5, 0.58, 0.6, 0.58, 0.52, 0.45, 0.4, 0.38, 0.37, 0.37, 0.36, 0.3, 0.2, 0.12, 0.06, 0.04, 0.03, 0.02],
  [2.9, 3.15, 3.2, 3.0, 2.6, 2.1, 1.6, 1.25, 0.95, 0.8, 0.65, 0.55, 0.42, 0.3, 0.2, 0.15, 0.1, 0.06],
  [2.8, 3.05, 3.1, 2.92, 2.52, 2.05, 1.55, 1.2, 0.92, 0.78, 0.62, 0.52, 0.4, 0.28, 0.18, 0.13, 0.09, 0.05],
  [2.7, 2.95, 3.0, 2.85, 2.45, 2.0, 1.5, 1.15, 0.9, 0.75, 0.6, 0.5, 0.38, 0.26, 0.17, 0.12, 0.08, 0.05],
  [2.6, 2.85, 2.9, 2.75, 2.4, 1.95, 1.45, 1.1, 0.86, 0.72, 0.58, 0.48, 0.36, 0.25, 0.16, 0.11, 0.07, 0.04],
  [2.5, 2.75, 2.8, 2.65, 2.3, 1.88, 1.4, 1.05, 0.82, 0.68, 0.55, 0.45, 0.33, 0.23, 0.15, 0.1, 0.06, 0.04],
  [2.4, 2.65, 2.7, 2.55, 2.2, 1.8, 1.35, 1.0, 0.78, 0.64, 0.52, 0.42, 0.3, 0.2, 0.13, 0.09, 0.05, 0.03],
  [2.35, 2.55, 2.6, 2.45, 2.1, 1.7, 1.3, 0.95, 0.74, 0.6, 0.5, 0.4, 0.28, 0.18, 0.12, 0.08, 0.05, 0.03],
  [2.3, 2.45, 2.5, 2.35, 2.0, 1.6, 1.2, 0.9, 0.7, 0.55, 0.45, 0.36, 0.25, 0.16, 0.1, 0.07, 0.04, 0.02],
  [1.55, 1.65, 1.75, 1.7, 1.55, 1.35, 1.1, 0.85, 0.6, 0.45, 0.35, 0.28, 0.2, 0.12, 0.07, 0.04, 0.02, 0.01],
  [2.45, 2.55, 2.5, 2.1, 1.4, 0.9, 0.6, 0.4, 0.22, 0.1, 0.04, 0.02, 0.01, 0, 0, 0, 0, 0],
  [2.45, 2.72, 2.0, 0.9, 0.1, 0.05, 0.3, 0.55, 0.15, 0.01, 0, 0, 0, 0, 0, 0, 0, 0]
];

// y axes per panel
const yTicksVarying = [[0, 0.2, 0.4, 0.6, 0.8, 1.0, 1.2, 1.4], [0, 0.25, 0.5, 0.75, 1.0, 1.25, 1.5, 1.75], [0, 0.5, 1.0, 1.5, 2.0, 2.5], [0, 1, 2, 3, 4]];
const yTicksCanonical = [[0, 0.5, 1.0, 1.5, 2.0, 2.5], [0, 0.5, 1.0, 1.5, 2.0], [0, 0.2, 0.4, 0.6, 0.8, 1.0], [0, 1, 2, 3, 4, 5]];
const yMaxVarying = [1.473, 1.889, 2.80, 4.18];
const yMaxCanonical = [2.79, 2.31, 1.091, 5.225];
const yExpVarying = [-2, -2, -2, -1];
const yExpCanonical = [-2, -2, -1, -1];

// ---- layout -----------------------------------------------------------
const serif = '"Liberation Serif", "Times New Roman", serif';
const svg = d3.select("#chart").style("font-family", serif);
const colLeft = [93, 337, 580, 822];
const colWidth = [204, 201, 202, 202];
const rowTop = [78, 317];
const rowHeight = [217, 215];
const yFmtVarying = [".1f", ".2f", ".1f", "d"];
const yFmtCanonical = [".1f", ".1f", ".1f", "d"];
const xFmt = ["d", "d", "d", ".1f"];

// seaborn-style cubehelix palette (light -> dark)
function cubehelixPalette(n) {
  const out = [];
  for (let k = 0; k < n; k++) {
    const t = 0.85 + (0.15 - 0.85) * k / (n - 1);
    const a = 0.8 * t * (1 - t) / 2, phi = 2 * Math.PI * 0.4 * t;
    const ch = (p0, p1) => Math.max(0, Math.min(1, t + a * (p0 * Math.cos(phi) + p1 * Math.sin(phi))));
    out.push(d3.rgb(255 * ch(-0.14861, 1.78277), 255 * ch(-0.29227, -0.90649), 255 * ch(1.97294, 0)).formatHex());
  }
  return out;
}
const colors = cubehelixPalette(zamsLabels.length);

const panels = [
  { row: 0, col: 0, edges: bhbhVaryingEdges, hist: bhbhVaryingHist, kdeX: bhbhVaryingKdeX, kde: bhbhVaryingKde },
  { row: 0, col: 1, edges: bhnsVaryingEdges, hist: bhnsVaryingHist, kdeX: bhnsVaryingKdeX, kde: bhnsVaryingKde },
  { row: 0, col: 2, edges: nsbhVaryingEdges, hist: nsbhVaryingHist, kdeX: nsbhVaryingKdeX, kde: nsbhVaryingKde },
  { row: 0, col: 3, edges: nsnsEdges, hist: nsnsVaryingHist, kdeX: nsnsVaryingKdeX, kde: nsnsVaryingKde },
  { row: 1, col: 0, edges: bhbhCanonicalEdges, hist: bhbhCanonicalHist, kdeX: bhbhCanonicalKdeX, kde: bhbhCanonicalKde },
  { row: 1, col: 1, edges: bhnsCanonicalEdges, hist: bhnsCanonicalHist, kdeX: bhnsCanonicalKdeX, kde: bhnsCanonicalKde },
  { row: 1, col: 2, edges: nsbhCanonicalEdges, hist: nsbhCanonicalHist, kdeX: nsbhCanonicalKdeX, kde: nsbhCanonicalKde },
  { row: 1, col: 3, edges: nsnsEdges, hist: nsnsCanonicalHist, kdeX: nsnsCanonicalKdeX, kde: nsnsCanonicalKde }
];

panels.forEach(p => {
  const w = colWidth[p.col], h = rowHeight[p.row];
  const yMax = p.row === 0 ? yMaxVarying[p.col] : yMaxCanonical[p.col];
  const yTicks = p.row === 0 ? yTicksVarying[p.col] : yTicksCanonical[p.col];
  const yFmt = p.row === 0 ? yFmtVarying[p.col] : yFmtCanonical[p.col];
  const yExp = p.row === 0 ? yExpVarying[p.col] : yExpCanonical[p.col];

  const x = d3.scaleLinear().domain(xDomains[p.col]).range([0, w]);
  const y = d3.scaleLinear().domain([0, yMax]).range([h, 0]);

  const g = svg.append("g").attr("transform", `translate(${colLeft[p.col]},${rowTop[p.row]})`);
  const clipId = `clip-${p.row}-${p.col}`;
  g.append("clipPath").attr("id", clipId).append("rect").attr("width", w).attr("height", h);
  const plot = g.append("g").attr("clip-path", `url(#${clipId})`);

  // layered histograms, darkest drawn first
  for (let i = zamsLabels.length - 1; i >= 0; i--) {
    const bins = p.hist[i].map((v, k) => ({ x0: p.edges[k], x1: p.edges[k + 1], v })).filter(d => d.v > 0);
    plot.append("g").selectAll("rect").data(bins).join("rect")
      .attr("x", d => x(d.x0))
      .attr("width", d => x(d.x1) - x(d.x0))
      .attr("y", d => y(d.v))
      .attr("height", d => y(0) - y(d.v))
      .attr("fill", colors[i]).attr("fill-opacity", 0.5)
      .attr("stroke", "#1a1a1a").attr("stroke-opacity", 0.45).attr("stroke-width", 0.7);
  }

  // kde curves
  const line = d3.line()
    .defined(d => d[1] != null)
    .x(d => x(d[0])).y(d => y(d[1]))
    .curve(d3.curveMonotoneX);
  for (let i = zamsLabels.length - 1; i >= 0; i--) {
    plot.append("path")
      .datum(p.kdeX.map((xv, k) => [xv, p.kde[i][k]]))
      .attr("d", line)
      .attr("fill", "none").attr("stroke", colors[i]).attr("stroke-width", 1.1);
  }

  // axes
  const xAxis = g.append("g").attr("transform", `translate(0,${h})`)
    .call(d3.axisBottom(x).tickValues(xTicks[p.col]).tickSize(4).tickPadding(2)
      .tickFormat(p.row === 1 ? d3.format(xFmt[p.col]) : () => ""));
  const yAxis = g.append("g")
    .call(d3.axisLeft(y).tickValues(yTicks).tickSize(4).tickPadding(3).tickFormat(d3.format(yFmt)));
  [xAxis, yAxis].forEach(a => {
    a.attr("font-family", null);
    a.select(".domain").remove();
    a.selectAll("line").attr("stroke", "#9a9a9a");
    a.selectAll("text").attr("font-size", 13).attr("fill", "#222");
  });

  g.append("rect").attr("width", w).attr("height", h)
    .attr("fill", "none").attr("stroke", "#a8a8a8").attr("stroke-width", 1);

  // offset text
  const m = g.append("text").attr("x", 1).attr("y", -4).attr("font-size", 12).attr("fill", "#222");
  m.append("tspan").text("×10");
  m.append("tspan").attr("font-size", 9).attr("dy", -5).text("−" + Math.abs(yExp));

  if (p.row === 0) {
    g.append("text").attr("x", w / 2).attr("y", -4).attr("text-anchor", "middle")
      .attr("font-size", 18).attr("fill", "#111").text(typeNames[p.col]);
  }
  if (p.col === 3) {
    g.append("text").attr("transform", `translate(${w + 7},${h / 2}) rotate(90)`)
      .attr("text-anchor", "middle").attr("font-size", 18).attr("fill", "#111").text(rowNames[p.row]);
  }
});

// axis labels
const yl = svg.append("text").attr("transform", "translate(31,305) rotate(-90)")
  .attr("text-anchor", "middle").attr("font-size", 18).attr("fill", "#111");
yl.append("tspan").text("d");
yl.append("tspan").attr("font-style", "italic").text("N");
yl.append("tspan").text("/d");
yl.append("tspan").attr("font-style", "italic").text("m");
yl.append("tspan").attr("font-size", 12).attr("dy", 4).text("1");
yl.append("tspan").attr("dy", -4).text(" (M");
yl.append("tspan").attr("font-size", 12).attr("dy", 5).text("⊙");
yl.append("tspan").attr("font-size", 12).attr("dx", -9).attr("dy", -12).text("−1");
yl.append("tspan").attr("dy", 7).text(")");

const xl = svg.append("text").attr("x", 556).attr("y", 578)
  .attr("text-anchor", "middle").attr("font-size", 18).attr("fill", "#111");
xl.append("tspan").attr("font-style", "italic").text("m");
xl.append("tspan").attr("font-size", 12).attr("dy", 4).text("1");
xl.append("tspan").attr("dy", -4).text(" (M");
xl.append("tspan").attr("font-size", 12).attr("dy", 4).text("⊙");
xl.append("tspan").attr("dy", -4).text(")");

// legend
const legend = svg.append("g");
legend.append("rect").attr("x", 100.5).attr("y", 8.5).attr("width", 939).attr("height", 41)
  .attr("rx", 3).attr("fill", "#fff").attr("stroke", "#d0d0d0");
const lt = legend.append("text").attr("x", 570).attr("y", 24).attr("text-anchor", "middle")
  .attr("font-size", 15).attr("fill", "#111");
lt.append("tspan").attr("font-style", "italic").text("z");
lt.append("tspan").attr("font-size", 10).attr("dy", 3).text("ZAMS");

const items = legend.selectAll("g.item").data(zamsLabels).join("g")
  .attr("class", "item")
  .attr("transform", (d, i) => `translate(${104 + i * 79},34)`);
items.append("rect").attr("width", 22).attr("height", 9)
  .attr("fill", (d, i) => colors[i]).attr("stroke", "#444").attr("stroke-width", 0.6);
items.append("text").attr("x", 28).attr("y", 8.5).attr("font-size", 13).attr("fill", "#222").text(d => d);
</script>
</body>
</html>
